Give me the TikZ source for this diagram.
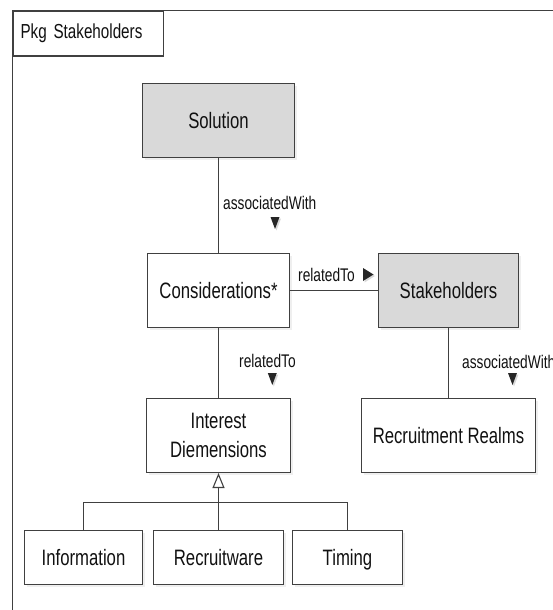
\documentclass[tikz,border=0pt]{standalone}
\usepackage{fontspec}
\setmainfont{Liberation Sans}[FakeStretch=0.75]
\usetikzlibrary{shadows,arrows.meta}
\definecolor{linec}{HTML}{404040}
\definecolor{boxgray}{HTML}{D9D9D9}
\definecolor{txt}{HTML}{111111}
\begin{document}
\begin{tikzpicture}[x=1pt,y=-1pt,
  conn/.style={draw=linec, line width=1.1pt},
  box/.style={draw=linec, line width=1.1pt, fill=white, inner sep=0pt,
    font=\fontsize{22.3}{29.5}\selectfont, text=txt, align=center,
    drop shadow={shadow xshift=2.5pt, shadow yshift=-2.5pt, fill=black!12}},
  one/.style={text height=16pt, text depth=0pt},
  gbox/.style={box, fill=boxgray},
  lbl/.style={font=\fontsize{18.3}{21}\selectfont, text=txt, inner sep=0pt, anchor=west},
  tri/.style={fill=black!85},
  trish/.style={fill=black!15},
  dtri/.pic={\fill[trish] (-3,-4.5) -- (6,-4.5) -- (1.5,7.5) -- cycle;
             \fill[tri] (-4.5,-6) -- (4.5,-6) -- (0,6) -- cycle;},
  rtri/.pic={\fill[trish] (-3.5,-5) -- (7,1.5) -- (-3.5,8) -- cycle;
             \fill[tri] (-5,-6.5) -- (5.5,0) -- (-5,6.5) -- cycle;}
]
\useasboundingbox (0,0) rectangle (553,610);
% package frame
\draw[conn] (12.5,10.5) rectangle (640,700);
\node[draw=linec, line width=1.1pt, fill=white, anchor=north west, minimum height=45pt,
      text width=135pt, inner xsep=7.5pt, inner ysep=0pt, align=left,
      font=\fontsize{20.3}{23}\selectfont, text=txt] (tab) at (12.5,10.5) {Pkg Stakeholders};

% class boxes
\node[gbox, one, minimum width=152pt, minimum height=74pt] (sol) at (218.5,120.5) {Solution};
\node[box, one, minimum width=142pt, minimum height=74pt] (cons) at (218.5,290.5) {Considerations*};
\node[gbox, one, minimum width=140pt, minimum height=74pt] (stk) at (448.5,290.5) {Stakeholders};
\node[box, minimum width=144pt, minimum height=74pt] (intr) at (218.5,435.5) {Interest\\Diemensions};
\node[box, one, minimum width=174pt, minimum height=74pt] (rr) at (448.5,435.5) {Recruitment Realms};
\node[box, one, minimum width=118pt, minimum height=54pt] (info) at (83.5,557.5) {Information};
\node[box, one, minimum width=130pt, minimum height=54pt] (recw) at (218.5,557.5) {Recruitware};
\node[box, one, minimum width=110pt, minimum height=54pt] (tim) at (347.5,557.5) {Timing};

% associations
\draw[conn] (sol) -- (cons);
\draw[conn] (cons) -- (stk);
\draw[conn] (cons) -- (intr);
\draw[conn] (stk) -- (rr);

% association labels
\node[lbl] (l1) at (223,203) {associatedWith};
\pic at (275,223) {dtri};
\node[lbl] (l2) at (298,275) {relatedTo};
\pic at (368,274.5) {rtri};
\node[lbl] (l3) at (239,361) {relatedTo};
\pic at (272.3,379) {dtri};
\node[lbl] (l4) at (462,361.7) {associatedWith};
\pic at (512.5,379) {dtri};

% generalization
\coordinate (gj) at (218.5,502.5);
\draw[conn] (info.north) |- (gj) -| (tim.north);
\draw[conn] (recw.north) -- (gj);
\draw[conn, -{Triangle[open, length=15pt, width=12pt, fill=white]}] (gj) -- (intr.south);
\end{tikzpicture}
\end{document}
